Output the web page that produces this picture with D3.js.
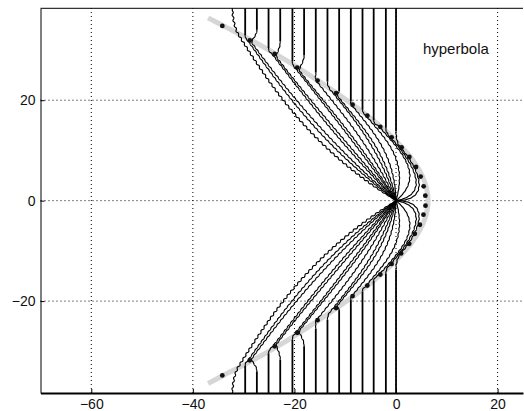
<!DOCTYPE html>
<html lang="en">
<head>
<meta charset="utf-8">
<title>hyperbola</title>
<script src="https://d3js.org/d3.v7.min.js"></script>
<style>
  body { margin: 0; background: #fff; }
  text { font-family: "Liberation Sans", Arial, sans-serif; fill: #111; }
</style>
</head>
<body>
<svg width="524" height="411"></svg>
<script>
// ticks
const xTicks = [-60, -40, -20, 0, 20];
const yTicks = [-20, 0, 20];

// black sample points on the hyperbola
const dotUpX = [-34.2, -28.8, -23.9, -19.45, -15.45, -11.8, -8.55, -5.65, -3.1, -0.87, 1.1, 2.62, 3.94, 4.85, 5.44, 5.77];
const dotUpY = [34.8, 31.9, 29.2, 26.5, 23.9, 21.4, 19.1, 16.9, 14.7, 12.6, 10.6, 8.7, 6.7, 4.8, 2.85, 1.0];
const dotLoX = [-34.2, -28.8, -23.9, -19.45, -15.45, -11.8, -8.55, -5.65, -3.1, -0.87, 1.0, 2.6, 3.7, 4.7, 5.4, 5.8];
const dotLoY = [-34.8, -31.8, -29.0, -26.3, -23.8, -21.4, -19.0, -16.9, -14.7, -12.6, -10.5, -8.6, -6.6, -4.8, -2.8, -1.0];

// grey hyperbola
const hypX = [-37.0, -34.0, -28.6, -21.7, -15.5, -9.7, -4.5, -0.1, 3.35, 5.55, 6.3, 5.55, 3.35, -0.1, -4.5, -9.7, -15.5, -21.7, -28.6, -34.0, -37.0];
const hypY = [36.4, 34.8, 32, 28, 24, 20, 16, 12, 8, 4, 0, -4, -8, -12, -16, -20, -24, -28, -32, -34.8, -36.4];

// rays: vertical x, where the vertical stops, where the bent part starts
const rayX     = [-32.2, -29.7, -27.4, -25.1, -22.8, -20.4, -18.1, -15.8, -13.5, -11.2, -8.9, -6.6, -4.4, -2.0, 0.0];
const rayStop  = [38.3, 32.9, 34.0, 30.4, 31.7, 27.7, 29.0, 25.5, 23.7, 21.8, 19.8, 18.1, 16.0, 14.5, 13.8];
const rayStartX = [-31.0, -29.0, -28.3, -24.1, -23.4, -19.6, -18.9, -15.5, -12.2, -11.4, -8.6, -5.7, -3.1, -0.9, 1.0];
const rayStartY = [33.0, 31.6, 31.3, 28.8, 28.4, 26.1, 25.7, 23.6, 21.2, 20.7, 18.9, 16.7, 14.5, 12.4, 10.4];
// heading when leaving the hyperbola (deg) and its pull
const rayLeave     = [-58, -55, -54, -53, -53, -52, -52, -52, -52, -52, -52, -51, -50, -49, -48];
const rayLeavePull = [12, 11.5, 11, 10, 10, 9, 9, 8, 7, 7, 6.5, 6, 5.5, 5, 4.5];
// heading at the origin (deg) and its pull
const rayAngle = [148, 143, 139, 134, 130, 125, 121, 115, 108, 101, 92, 74, 40, 10, 0];
const rayPull  = [20, 18.5, 18, 16, 15.5, 14, 13.5, 12.5, 11, 10.5, 9.5, 8.5, 8, 7.8, 7.6];

const svg = d3.select("svg");
const x = d3.scaleLinear().domain([-70, 25]).range([40.5, 523]);
const y = d3.scaleLinear().domain([-38.3, 38.3]).range([393, 8.3]);
const yTop = 38.3;
const fmt = d => (d < 0 ? "\u2212" : "") + Math.abs(d);

// dotted grid
svg.append("g").selectAll("line").data(xTicks).join("line")
    .attr("x1", d => x(d)).attr("x2", d => x(d))
    .attr("y1", y(-yTop)).attr("y2", y(yTop))
    .attr("stroke", "#000").attr("stroke-width", 1).attr("stroke-dasharray", "1,3");
svg.append("g").selectAll("line").data(yTicks).join("line")
    .attr("x1", x(-70)).attr("x2", x(25))
    .attr("y1", d => y(d)).attr("y2", d => y(d))
    .attr("stroke", "#000").attr("stroke-width", 1).attr("stroke-dasharray", "1,3");

// grey hyperbola
const hypLine = d3.line().x(d => x(d[0])).y(d => y(d[1])).curve(d3.curveCatmullRom);
svg.append("path")
    .attr("d", hypLine(d3.zip(hypX, hypY)))
    .attr("fill", "none").attr("stroke", "#d6d6d6").attr("stroke-width", 5);

function cubic(p0, p1, p2, p3, t) {
    const u = 1 - t;
    return [u*u*u*p0[0] + 3*u*u*t*p1[0] + 3*u*t*t*p2[0] + t*t*t*p3[0],
            u*u*u*p0[1] + 3*u*u*t*p1[1] + 3*u*t*t*p2[1] + t*t*t*p3[1]];
}
const rad = a => a * Math.PI / 180;
const thinLine = d3.line();

rayX.forEach((vx, i) => {
    [1, -1].forEach(side => {
        const stop = rayStop[i];
        if (stop < yTop) {
            svg.append("line")
                .attr("x1", x(vx)).attr("x2", x(vx))
                .attr("y1", y(side * yTop)).attr("y2", y(side * stop))
                .attr("stroke", "#000").attr("stroke-width", 1.8);
        }
        const E = [rayStartX[i], rayStartY[i]];
        const dl = [Math.cos(rad(rayLeave[i])), Math.sin(rad(rayLeave[i]))];
        const bend = [[vx, stop], [vx, stop - 0.5 * (stop - E[1])],
                      [E[0] - 0.8 * dl[0], E[1] - 0.8 * dl[1]], E];
        const band = [E, [E[0] + rayLeavePull[i] * dl[0], E[1] + rayLeavePull[i] * dl[1]],
                      [rayPull[i] * Math.cos(rad(rayAngle[i])), rayPull[i] * Math.sin(rad(rayAngle[i]))],
                      [0, 0]];
        const pts = [];
        for (let k = 0; k <= 60; k++) pts.push(cubic(...bend, k / 60));
        for (let k = 1; k <= 800; k++) pts.push(cubic(...band, k / 800));
        const px = pts.map(p => [x(p[0]), y(side * p[1])]);
        // arc length
        const s = [0];
        for (let k = 1; k < px.length; k++) s.push(s[k-1] + Math.hypot(px[k][0]-px[k-1][0], px[k][1]-px[k-1][1]));
        const L = s[s.length - 1];
        const amp = i === 0 ? 0.7 : 0.3;
        const wav = px.map((p, k) => {
            if (k === 0 || k === px.length - 1) return p;
            const dx = px[k+1][0] - px[k-1][0], dy = px[k+1][1] - px[k-1][1];
            const n = Math.hypot(dx, dy) || 1;
            const a = amp * Math.min(1, s[k] / 4) * Math.min(1, (L - s[k]) / 30) * Math.sin(2 * Math.PI * s[k] / 5.5 + i * 1.3);
            return [p[0] - dy / n * a, p[1] + dx / n * a];
        });
        svg.append("path")
            .attr("d", thinLine(wav))
            .attr("fill", "none").attr("stroke", "#000").attr("stroke-width", 1.15);
    });
});

// dots
svg.append("g").selectAll("circle")
    .data(d3.zip(dotUpX.concat(dotLoX), dotUpY.concat(dotLoY))).join("circle")
    .attr("cx", d => x(d[0])).attr("cy", d => y(d[1])).attr("r", 2.4)
    .attr("fill", "#111");

// axes
const xAxis = svg.append("g").attr("transform", `translate(0,${y(-yTop)})`)
    .call(d3.axisBottom(x).tickValues(xTicks).tickFormat(fmt).tickSizeInner(-4).tickSizeOuter(0).tickPadding(6));
const yAxis = svg.append("g").attr("transform", `translate(${x(-70)},0)`)
    .call(d3.axisLeft(y).tickValues(yTicks).tickFormat(fmt).tickSizeInner(-4).tickSizeOuter(0).tickPadding(5));
[xAxis, yAxis].forEach(g => {
    g.selectAll("text").attr("font-size", 14).attr("font-family", "Liberation Sans, Arial, sans-serif").attr("fill", "#111");
    g.selectAll("line").attr("stroke", "#000");
});
xAxis.select(".domain").attr("stroke", "#000").attr("stroke-width", 2);
yAxis.select(".domain").attr("stroke", "#000").attr("stroke-width", 1);
svg.append("line")
    .attr("x1", x(-70)).attr("x2", x(25)).attr("y1", y(yTop)).attr("y2", y(yTop))
    .attr("stroke", "#000").attr("stroke-width", 1);

svg.append("text")
    .attr("x", x(5.3)).attr("y", y(29.2))
    .attr("font-size", 15)
    .text("hyperbola");
</script>
</body>
</html>
